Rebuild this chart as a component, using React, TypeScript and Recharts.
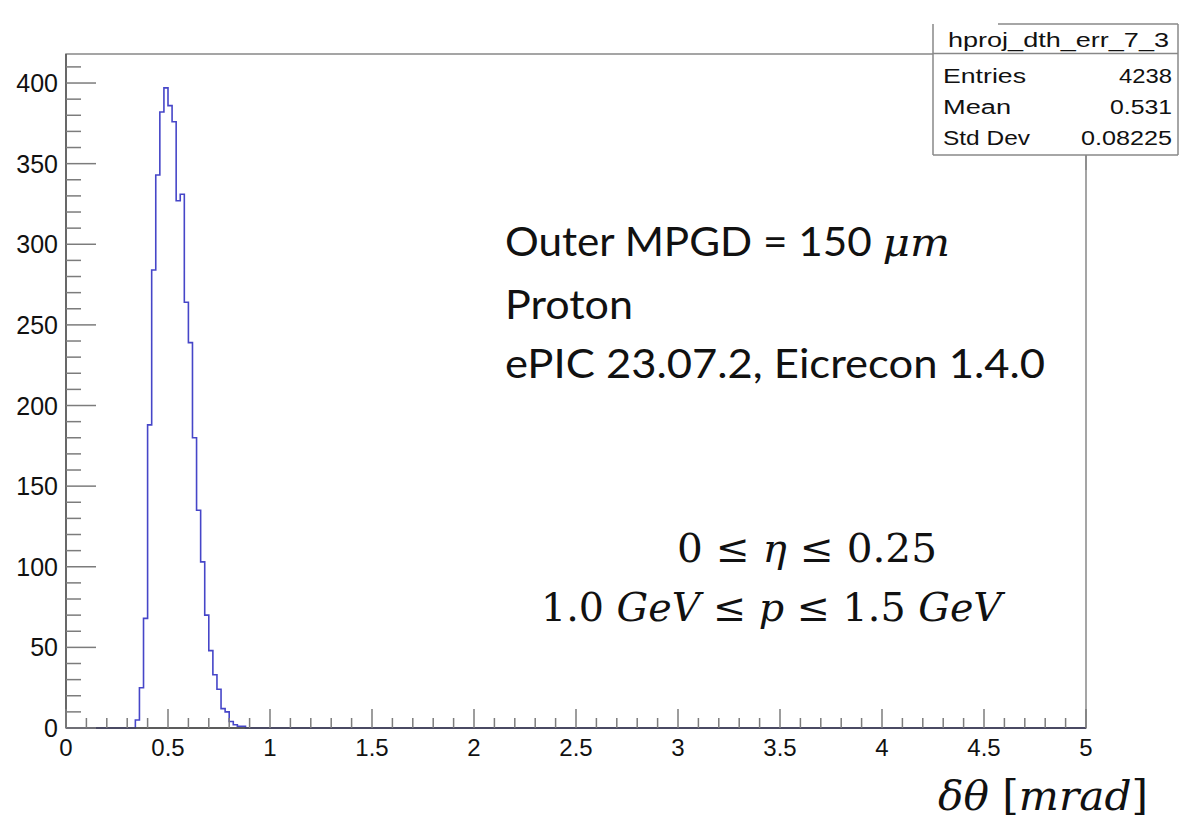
import React from 'react';
import { ComposedChart, Line, XAxis, YAxis, ReferenceArea } from 'recharts';

// histogram binning (bins of 0.02 mrad, first filled bin starts at 0.34)
const binLow = 0.34;
const binWidth = 0.02;
const counts = [5, 25, 68, 188, 284, 343, 382, 397, 386, 376, 327, 331, 264, 239, 180, 135, 103, 70, 48, 33, 24, 12, 10, 4, 2, 1, 1];

const xMajor = [0, 0.5, 1, 1.5, 2, 2.5, 3, 3.5, 4, 4.5, 5];
const yMajor = [0, 50, 100, 150, 200, 250, 300, 350, 400];
const xTicks = Array.from({ length: 51 }, (_, i) => i / 10);
const yTicks = Array.from({ length: 42 }, (_, i) => i * 10);

const statsTitle = 'hproj_dth_err_7_3';
const statsRows = [
  { label: 'Entries', value: '4238', lw: 83, vw: 53 },
  { label: 'Mean', value: '0.531', lw: 68, vw: 62 },
  { label: 'Std Dev', value: '0.08225', lw: 87, vw: 91 },
];

const histData = [
  { x: 0, n: 0 },
  ...counts.map((n, i) => ({ x: binLow + i * binWidth, n })),
  { x: binLow + counts.length * binWidth, n: 0 },
  { x: 5, n: 0 },
];

const W = 1188;
const H = 822;
const sans = '"Liberation Sans", Arial, Helvetica, sans-serif';
const serif = '"DejaVu Serif", serif';
const body = 'Lato, "Open Sans", sans-serif';
const fit = 'spacingAndGlyphs';

const XTick = (props: any) => {
  const { x, y, payload } = props;
  const v = payload.value;
  const major = xMajor.some((m) => Math.abs(m - v) < 1e-6);
  return (
    <g>
      <line x1={x} x2={x} y1={y} y2={y - (major ? 19 : 10)} stroke="#7c7c7c" strokeWidth={1.5} />
      {major && (
        <text x={x} y={y + 28} textAnchor="middle" fontSize={24} fontFamily={sans} fill="#111">
          {String(v)}
        </text>
      )}
    </g>
  );
};

const YTick = (props: any) => {
  const { x, y, payload } = props;
  const v = payload.value;
  const major = yMajor.includes(v);
  return (
    <g>
      <line x1={x} x2={x + (major ? 30 : 15)} y1={y} y2={y} stroke="#7c7c7c" strokeWidth={1.5} />
      {major && (
        <text x={x - 8} y={y} dy="0.36em" textAnchor="end" fontSize={25} fontFamily={sans} fill="#111">
          {v}
        </text>
      )}
    </g>
  );
};

export default function App() {
  return (
    <div style={{ position: 'absolute', left: 0, top: 0, width: W, height: H, background: '#fff' }}>
      <ComposedChart
        width={W}
        height={H}
        data={histData}
        margin={{ top: 54, right: 102, bottom: 93, left: 65 }}
      >
        <ReferenceArea x1={0} x2={5} y1={0} y2={418} fill="none" stroke="#888" strokeWidth={1.5} />
        <XAxis
          dataKey="x"
          type="number"
          domain={[0, 5]}
          ticks={xTicks}
          interval={0}
          height={1}
          tickSize={0}
          tickMargin={0}
          tick={<XTick />}
          tickLine={false}
          axisLine={{ stroke: '#444', strokeWidth: 1.5 }}
        />
        <YAxis
          type="number"
          domain={[0, 418]}
          ticks={yTicks}
          interval={0}
          width={1}
          tickSize={0}
          tickMargin={0}
          tick={<YTick />}
          tickLine={false}
          axisLine={{ stroke: '#555', strokeWidth: 1.5 }}
        />
        <Line
          type="stepAfter"
          dataKey="n"
          stroke="#4646c8"
          strokeWidth={1.6}
          dot={false}
          activeDot={false}
          isAnimationActive={false}
        />
      </ComposedChart>

      <svg width={W} height={H} style={{ position: 'absolute', left: 0, top: 0, pointerEvents: 'none' }}>
        {/* stats box */}
        <rect x={933} y={24} width={245} height={131} fill="#fff" stroke="none" />
        <line x1={998} x2={1178} y1={24} y2={24} stroke="#888" strokeWidth={1.5} />
        <line x1={933} x2={933} y1={24} y2={155} stroke="#888" strokeWidth={1.5} />
        <line x1={1178} x2={1178} y1={24} y2={155} stroke="#888" strokeWidth={1.5} />
        <line x1={933} x2={1178} y1={155} y2={155} stroke="#888" strokeWidth={1.5} />
        <line x1={933} x2={1178} y1={53.5} y2={53.5} stroke="#888" strokeWidth={1.5} />
        <line x1={1086} x2={1086} y1={155} y2={170} stroke="#888" strokeWidth={1.5} />
        <text x={948} y={47} fontSize={20} fontFamily={sans} fill="#111" textLength={221} lengthAdjust={fit}>
          {statsTitle}
        </text>
        {statsRows.map((r, i) => (
          <g key={r.label}>
            <text x={943} y={83 + i * 31} fontSize={20} fontFamily={sans} fill="#111" textLength={r.lw} lengthAdjust={fit}>
              {r.label}
            </text>
            <text x={1172 - r.vw} y={83 + i * 31} fontSize={20} fontFamily={sans} fill="#111" textLength={r.vw} lengthAdjust={fit}>
              {r.value}
            </text>
          </g>
        ))}

        {/* annotations */}
        <text x={505} y={256} fontSize={40} fontFamily={body} fill="#111" textLength={445} lengthAdjust={fit}>
          Outer MPGD = 150 <tspan fontFamily={serif} fontStyle="italic">μm</tspan>
        </text>
        <text x={505} y={319} fontSize={40} fontFamily={body} fill="#111" textLength={128} lengthAdjust={fit}>
          Proton
        </text>
        <text x={505} y={378} fontSize={40} fontFamily={body} fill="#111" textLength={540} lengthAdjust={fit}>
          ePIC 23.07.2, Eicrecon 1.4.0
        </text>
        <text x={677} y={562} fontSize={39} fontFamily={serif} fill="#111" textLength={260} lengthAdjust={fit}>
          0 ≤ <tspan fontStyle="italic">η</tspan> ≤ 0.25
        </text>
        <text x={541} y={621} fontSize={39} fontFamily={serif} fill="#111" textLength={461} lengthAdjust={fit}>
          1.0 <tspan fontStyle="italic">GeV</tspan> ≤ <tspan fontStyle="italic">p</tspan> ≤ 1.5{' '}
          <tspan fontStyle="italic">GeV</tspan>
        </text>
        <text x={938} y={810} fontSize={41} fontFamily={serif} fill="#111" textLength={210} lengthAdjust={fit}>
          <tspan fontStyle="italic">δθ</tspan> [<tspan fontStyle="italic">mrad</tspan>]
        </text>
      </svg>
    </div>
  );
}
